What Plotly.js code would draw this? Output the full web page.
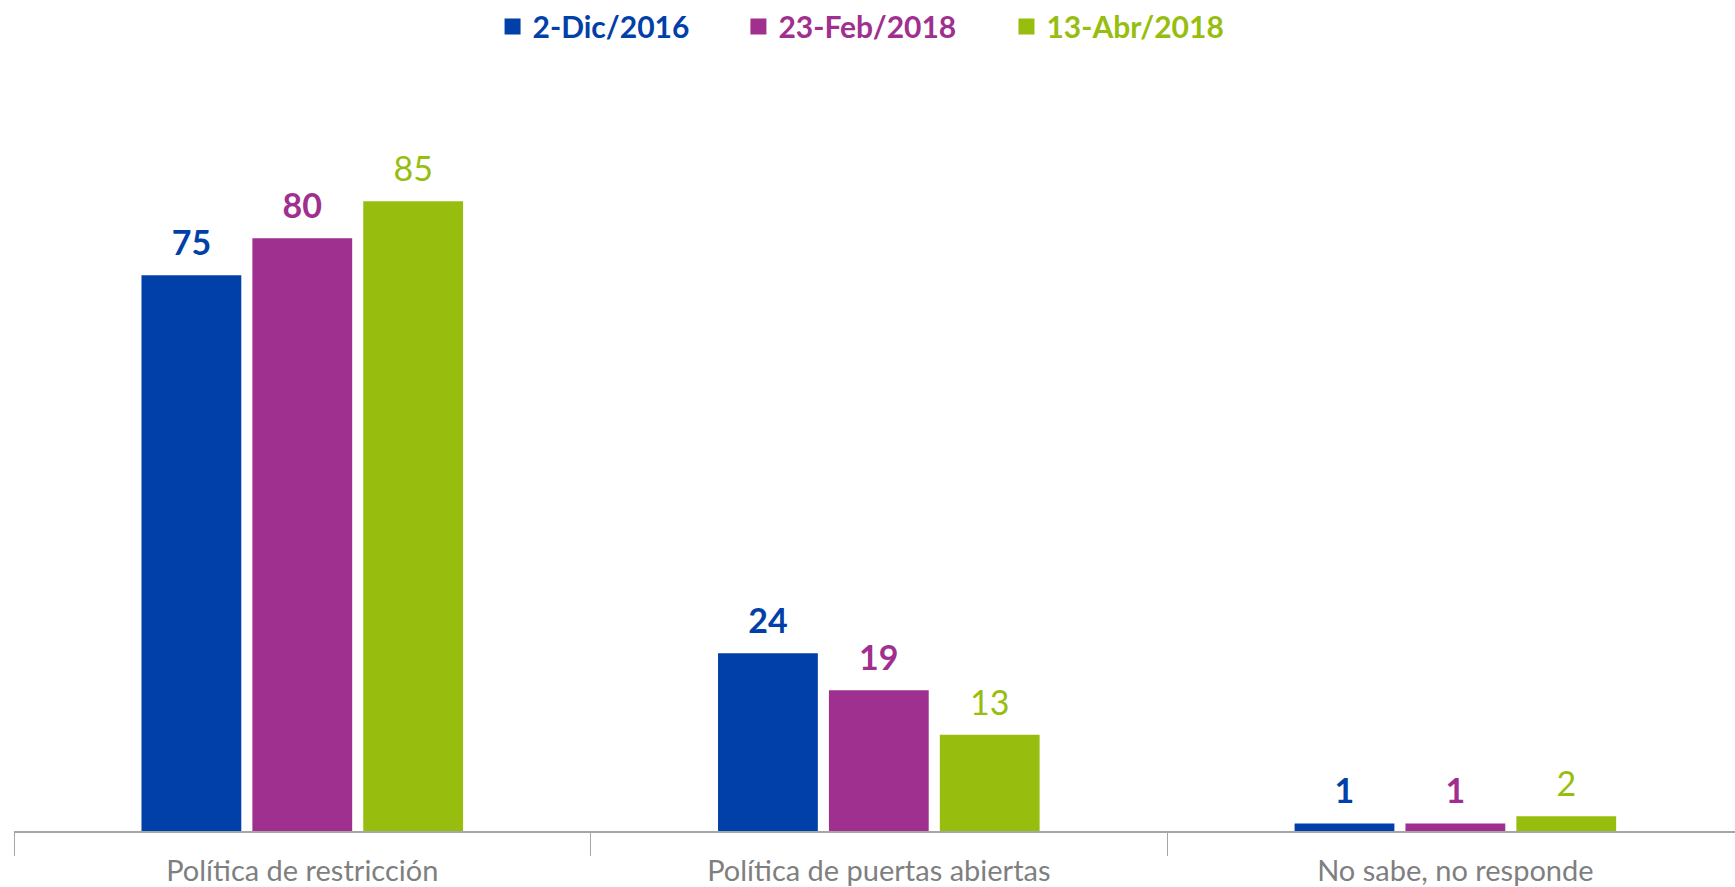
<!DOCTYPE html>
<html>
<head>
<meta charset="utf-8">
<script src="https://cdn.plot.ly/plotly-3.0.1.min.js"></script>
<style>html,body{margin:0;padding:0;background:#fff;}#chart{width:1735px;height:887px;}</style>
</head>
<body>
<div id="chart"></div>
<script>
const categories = ["Política de restricción", "Política de puertas abiertas", "No sabe, no responde"];
const seriesNames = ["2-Dic/2016", "23-Feb/2018", "13-Abr/2018"];
const dic2016 = [75, 24, 1];
const feb2018 = [80, 19, 1];
const abr2018 = [85, 13, 2];

const colors = ["#0040A8", "#A0308F", "#97BE0E"];
const boldLabels = [true, true, false];
const values = [dic2016, feb2018, abr2018];
const legendIds = ["legend", "legend2", "legend3"];
const FONT = "Lato, 'Open Sans', sans-serif";

const traces = [];
values.forEach((vals, i) => {
  traces.push({
    type: "bar",
    x: categories,
    y: vals,
    name: seriesNames[i],
    marker: {color: colors[i]},
    showlegend: false,
    hoverinfo: "skip"
  });
});
// value labels, grouped like the bars
values.forEach((vals, i) => {
  traces.push({
    type: "scatter",
    mode: "markers+text",
    x: categories,
    y: vals,
    name: seriesNames[i],
    marker: {color: colors[i], symbol: "square", size: 17, opacity: 0},
    text: vals.map(v => boldLabels[i] ? "<b>" + v + "</b>" : String(v)),
    textposition: "top center",
    textfont: {family: FONT, size: 34, color: colors[i]},
    cliponaxis: false,
    showlegend: false,
    hoverinfo: "skip"
  });
});
// legend-only entries on a hidden overlay axis
values.forEach((vals, i) => {
  traces.push({
    type: "scatter",
    mode: "markers",
    x: [null],
    y: [null],
    xaxis: "x2",
    yaxis: "y2",
    name: "<b>" + seriesNames[i] + "</b>",
    legend: legendIds[i],
    marker: {color: colors[i], symbol: "square", size: 16},
    showlegend: true,
    hoverinfo: "skip"
  });
});

function legendAt(x, i) {
  return {
    orientation: "h",
    xref: "container", yref: "container",
    x: x, xanchor: "left",
    y: 0.970, yanchor: "middle",
    font: {family: FONT, size: 30, color: colors[i]},
    bgcolor: "rgba(0,0,0,0)",
    itemclick: false, itemdoubleclick: false
  };
}

const layout = {
  width: 1735,
  height: 887,
  margin: {l: 14, r: 0, t: 90, b: 56},
  paper_bgcolor: "#ffffff",
  plot_bgcolor: "#ffffff",
  barmode: "group",
  bargap: 0.423,
  bargroupgap: 0.1,
  scattermode: "group",
  scattergap: 0.423,
  showlegend: true,
  legend: legendAt(0.2839, 0),
  legend2: legendAt(0.4256, 1),
  legend3: legendAt(0.5801, 2),
  xaxis: {
    type: "category",
    range: [-0.5, 2.485],
    showline: true,
    linecolor: "#A6A6A6",
    linewidth: 1.5,
    ticks: "outside",
    tickson: "boundaries",
    ticklen: 23,
    tickcolor: "#A6A6A6",
    tickwidth: 1,
    ticklabelstandoff: 14,
    tickfont: {family: FONT, size: 29, color: "#7F7F7F"},
    showgrid: false,
    zeroline: false,
    fixedrange: true
  },
  yaxis: {
    range: [0, 100],
    visible: false,
    showgrid: false,
    zeroline: false,
    fixedrange: true
  },
  xaxis2: {overlaying: "x", visible: false, range: [0, 1], fixedrange: true},
  yaxis2: {overlaying: "y", visible: false, range: [0, 1], fixedrange: true}
};

Plotly.newPlot("chart", traces, layout, {displayModeBar: false, staticPlot: true});
</script>
</body>
</html>
